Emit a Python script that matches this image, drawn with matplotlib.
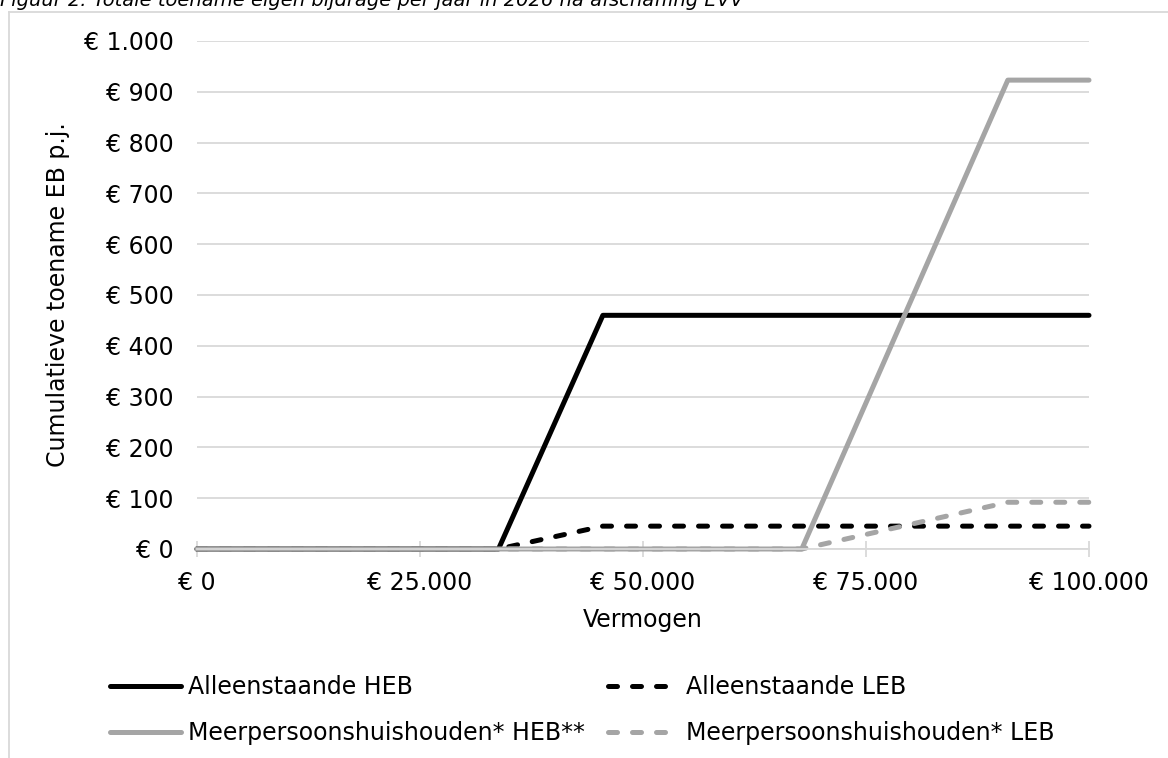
import matplotlib
matplotlib.use("Agg")
import matplotlib.pyplot as plt
from matplotlib.lines import Line2D

# Data
x_alleen = [0, 33800, 45500, 100000]
alleen_heb = [0, 0, 460, 460]
alleen_leb = [0, 0, 45, 45]
x_meer = [0, 67800, 90900, 100000]
meer_heb = [0, 0, 923, 923]
meer_leb = [0, 0, 92, 92]

series_labels = ["Alleenstaande HEB", "Alleenstaande LEB",
                 "Meerpersoonshuishouden* HEB**", "Meerpersoonshuishouden* LEB"]
x_ticks = [0, 25000, 50000, 75000, 100000]
x_ticklabels = ["€ 0", "€ 25.000", "€ 50.000", "€ 75.000", "€ 100.000"]
y_ticks = list(range(0, 1001, 100))
y_ticklabels = ["€ 0", "€ 100", "€ 200", "€ 300", "€ 400", "€ 500",
                "€ 600", "€ 700", "€ 800", "€ 900", "€ 1.000"]
title = "Figuur 2: Totale toename eigen bijdrage per jaar in 2026 na afschaffing EVV"

plt.rcParams['font.family'] = ['DejaVu Sans']
W, H = 1168, 758
fig = plt.figure(figsize=(W / 100, H / 100), dpi=100)
ax = fig.add_axes([197 / W, 1 - 549 / H, (1089 - 197) / W, (549 - 41) / H])

BLACK = "#000000"
GREY = "#A5A5A5"
GRID = "#D9D9D9"
LW = 3.6
FS = 17

kw_solid = dict(lw=LW, solid_joinstyle='round', solid_capstyle='round')
kw_dash = dict(lw=LW, dashes=(1.8, 3.0), dash_capstyle='round', dash_joinstyle='round')

l1, = ax.plot(x_alleen, alleen_heb, color=BLACK, label=series_labels[0], **kw_solid)
l2, = ax.plot(x_alleen, alleen_leb, color=BLACK, label=series_labels[1], **kw_dash)
l3, = ax.plot(x_meer, meer_heb, color=GREY, label=series_labels[2], **kw_solid)
l4, = ax.plot(x_meer, meer_leb, color=GREY, label=series_labels[3], **kw_dash)
for l in (l1, l2, l3, l4):
    l.set_clip_on(False)

ax.set_xlim(0, 100000)
ax.set_ylim(0, 1000)
ax.set_xticks(x_ticks)
ax.set_xticklabels(x_ticklabels, fontsize=FS)
ax.set_yticks(y_ticks)
ax.set_yticklabels(y_ticklabels, fontsize=FS)
ax.yaxis.grid(True, color=GRID, lw=1.3)
ax.set_axisbelow(True)
for s in ("top", "right", "left"):
    ax.spines[s].set_visible(False)
ax.spines["bottom"].set_color(GRID)
ax.spines["bottom"].set_linewidth(1.3)
ax.tick_params(axis='y', length=0, pad=17)
ax.tick_params(axis='x', direction='inout', length=11, color=GRID, width=1.3, pad=10)

ax.set_xlabel("Vermogen", fontsize=FS, labelpad=10)
ax.set_ylabel("Cumulatieve toename EB p.j.", fontsize=FS, labelpad=10)

# chart area border (extends beyond the figure on right/bottom)
fig.add_artist(Line2D([8.5 / W, 1.0], [1 - 12 / H, 1 - 12 / H], color=GRID, lw=1.3,
                      transform=fig.transFigure))
fig.add_artist(Line2D([8.5 / W, 8.5 / W], [1 - 12 / H, 0.0], color=GRID, lw=1.3,
                      transform=fig.transFigure))

fig.text(0.0, 1 - 6 / H, title, fontsize=14, style='italic', ha='left', va='baseline')

leg = fig.legend(handles=[l1, l3, l2, l4], loc='upper left',
                 bbox_to_anchor=(110 / W, 1 - 675 / H), ncol=2, frameon=False,
                 fontsize=FS, handlelength=3.0, handletextpad=0.3, columnspacing=1.0,
                 borderpad=0, borderaxespad=0, labelspacing=0.95)

fig.savefig("out.png", dpi=100)
